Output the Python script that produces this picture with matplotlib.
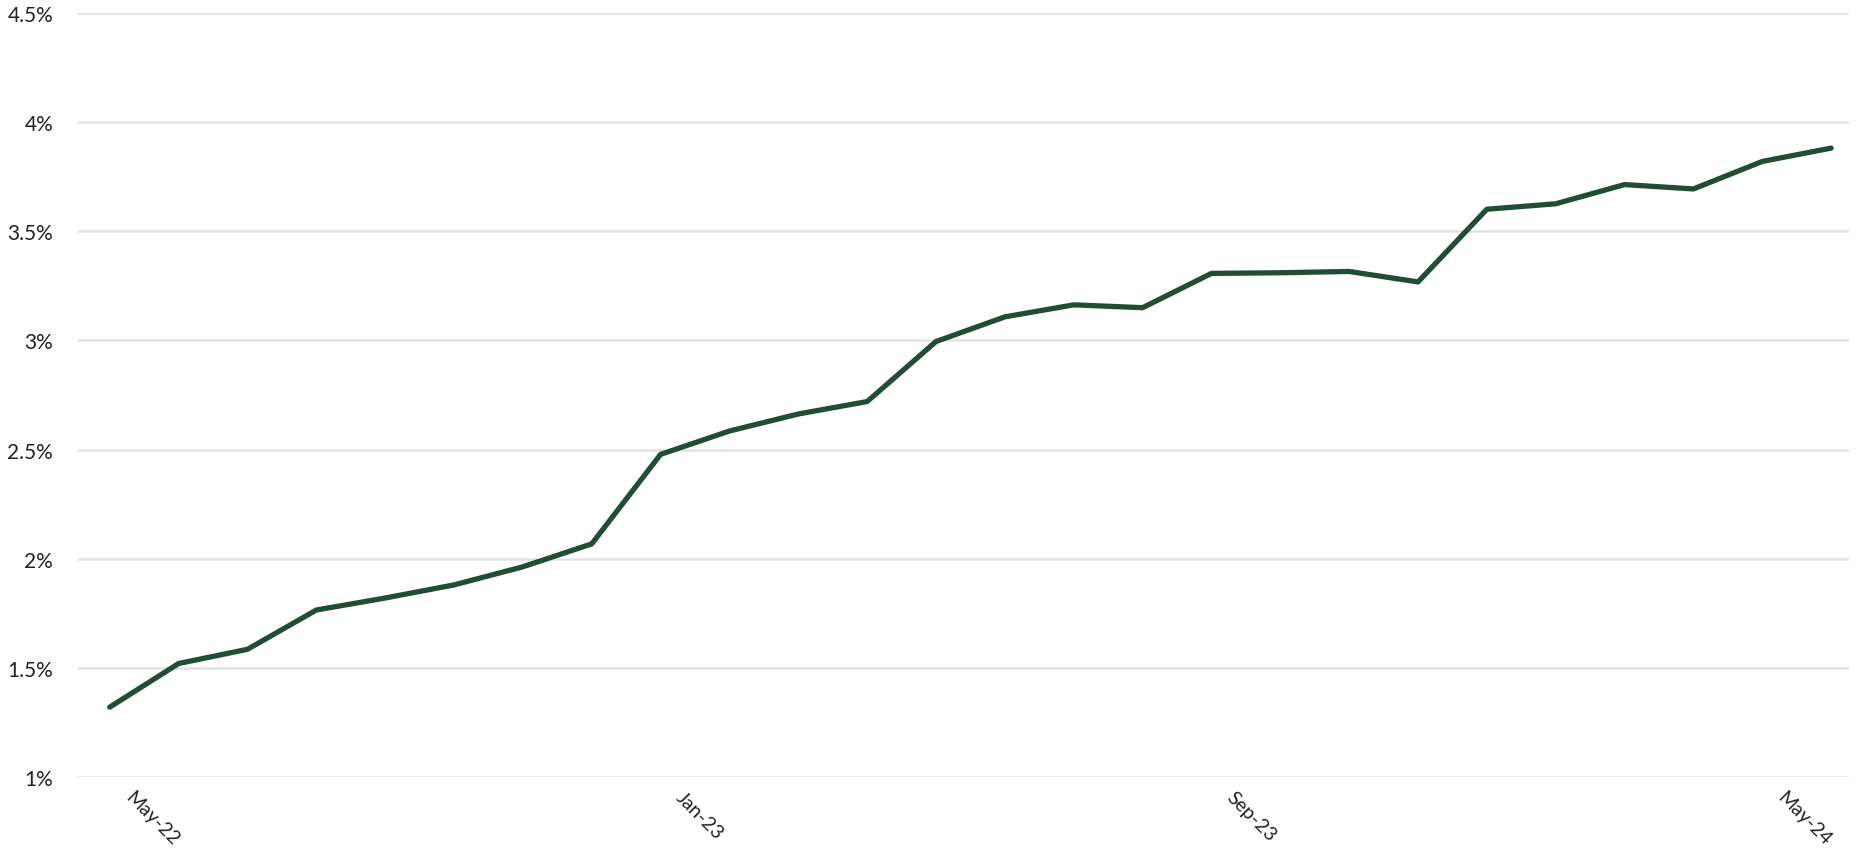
import matplotlib
matplotlib.use("Agg")
import matplotlib.pyplot as plt
import matplotlib.transforms as mtransforms

# monthly series, May-22 .. Jun-24
months = ["May-22", "Jun-22", "Jul-22", "Aug-22", "Sep-22", "Oct-22", "Nov-22", "Dec-22",
          "Jan-23", "Feb-23", "Mar-23", "Apr-23", "May-23", "Jun-23", "Jul-23", "Aug-23",
          "Sep-23", "Oct-23", "Nov-23", "Dec-23", "Jan-24", "Feb-24", "Mar-24", "Apr-24",
          "May-24", "Jun-24"]
values = [1.32, 1.52, 1.585, 1.765, 1.82, 1.88, 1.963, 2.068,
          2.478, 2.585, 2.663, 2.72, 2.995, 3.108, 3.163, 3.150,
          3.307, 3.310, 3.316, 3.268, 3.601, 3.626, 3.714, 3.694,
          3.820, 3.881]
shown_ticks = ["May-22", "Jan-23", "Sep-23", "May-24"]
y_ticks = [1, 1.5, 2, 2.5, 3, 3.5, 4, 4.5]
y_labels = ["1%", "1.5%", "2%", "2.5%", "3%", "3.5%", "4%", "4.5%"]

plt.rcParams["font.family"] = ["Lato", "DejaVu Sans"]

fig = plt.figure(figsize=(18.73, 8.54), dpi=100)
ax = fig.add_axes([0.0417, 0.089, 0.9455, 0.8946])

x = list(range(len(months)))
ax.plot(x, values, color="#214d36", linewidth=3.8, solid_capstyle="round", zorder=3)

ax.set_ylim(1, 4.5)
ax.set_xlim(-0.46, len(months) - 1 + 0.26)
ax.set_yticks(y_ticks)
ax.set_yticklabels(y_labels, fontsize=15, color="#222222")

# x labels drawn as text so they can sit a little right of the tick
tick_pos = [months.index(m) for m in shown_ticks]
ax.set_xticks(tick_pos)
ax.set_xticklabels([])
lbl_trans = mtransforms.offset_copy(ax.get_xaxis_transform(), fig=fig,
                                    x=12, y=-11, units="dots")
for p, m in zip(tick_pos, shown_ticks):
    ax.text(p, 0, m, transform=lbl_trans, fontsize=14, color="#222222",
            rotation=-45, ha="left", va="top", clip_on=False)

ax.grid(axis="y", color="#e2e2e2", linewidth=1.8)
ax.set_axisbelow(True)
ax.tick_params(axis="both", length=0)
ax.tick_params(axis="y", pad=18)
for s in ax.spines.values():
    s.set_visible(False)

plt.savefig("out.png", dpi=100)
